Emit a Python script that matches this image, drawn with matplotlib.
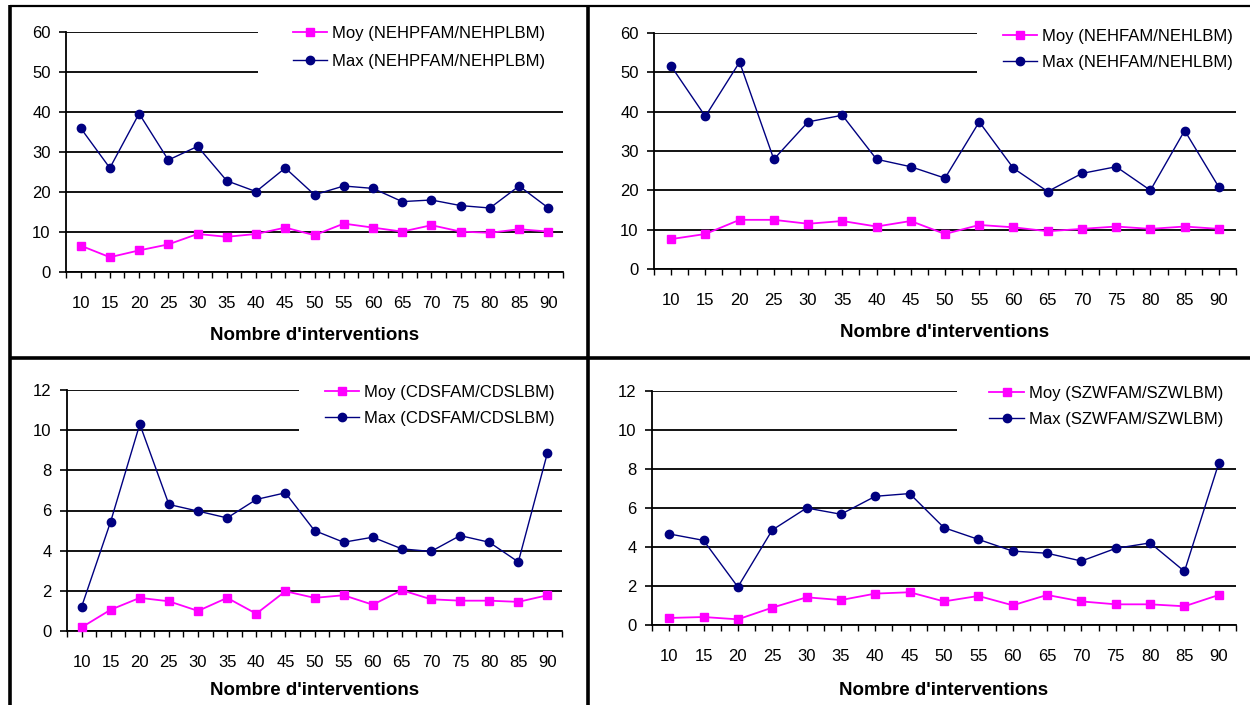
import matplotlib
matplotlib.use('Agg')
import matplotlib.pyplot as plt
from matplotlib.lines import Line2D

plt.rcParams['font.family'] = ['Liberation Sans', 'DejaVu Sans']

# Nombre d'interventions (categories)
interventions = [10, 15, 20, 25, 30, 35, 40, 45, 50, 55, 60, 65, 70, 75, 80, 85, 90]

# NEHPFAM/NEHPLBM
nehp_moy = [6.6, 3.7, 5.4, 6.9, 9.5, 8.8, 9.5, 11.1, 9.2, 12.1, 11.1, 10.1, 11.7, 10.1, 9.8, 10.7, 10.1]
nehp_max = [36.0, 26.0, 39.6, 28.0, 31.4, 22.8, 20.1, 26.0, 19.3, 21.5, 20.9, 17.6, 18.0, 16.6, 16.0, 21.5, 16.0]

# NEHFAM/NEHLBM
neh_moy = [7.6, 8.9, 12.5, 12.5, 11.5, 12.2, 10.8, 12.2, 8.9, 11.2, 10.6, 9.6, 10.2, 10.8, 10.2, 10.8, 10.2]
neh_max = [51.6, 38.8, 52.6, 27.9, 37.4, 39.1, 27.9, 26.0, 23.1, 37.4, 25.6, 19.7, 24.3, 26.0, 20.0, 35.2, 20.8]

# CDSFAM/CDSLBM
cds_moy = [0.18, 1.06, 1.65, 1.48, 1.0, 1.65, 0.86, 1.98, 1.65, 1.78, 1.31, 2.03, 1.58, 1.51, 1.51, 1.45, 1.78]
cds_max = [1.2, 5.45, 10.3, 6.3, 5.97, 5.63, 6.55, 6.88, 5.0, 4.42, 4.67, 4.09, 3.96, 4.75, 4.42, 3.44, 8.87]

# SZWFAM/SZWLBM
szw_moy = [0.36, 0.41, 0.29, 0.89, 1.42, 1.28, 1.61, 1.68, 1.21, 1.49, 1.01, 1.54, 1.21, 1.06, 1.06, 0.96, 1.54]
szw_max = [4.67, 4.34, 1.95, 4.87, 6.0, 5.68, 6.6, 6.74, 4.99, 4.39, 3.79, 3.68, 3.28, 3.93, 4.21, 2.75, 8.31]

W, H = 1250, 705
PINK = '#FF00FF'
NAVY = '#000080'

fig = plt.figure(figsize=(W / 100, H / 100), dpi=100)


def draw_panel(box, moy, mx, name, ymax, ystep, leg_left, leg_mid, bpad, lspace, label_y):
    # box in pixels: left, top, right, bottom
    x0, y0, x1, y1 = box
    ax = fig.add_axes([x0 / W, 1 - y1 / H, (x1 - x0) / W, (y1 - y0) / H])
    n = len(interventions)
    xs = [i + 0.5 for i in range(n)]

    # lines above the legend box so no marker gets hidden by it
    ax.plot(xs, moy, color=PINK, marker='s', ms=5.5, lw=1.3, clip_on=False,
            label=f'Moy ({name})', zorder=6)
    ax.plot(xs, mx, color=NAVY, marker='o', ms=6, lw=1.0, clip_on=False,
            label=f'Max ({name})', zorder=6)

    ax.set_xlim(0, n)
    ax.set_ylim(0, ymax)
    ax.set_xticks(xs)
    ax.set_xticklabels([str(v) for v in interventions])
    ax.set_xticks(range(n + 1), minor=True)
    ax.set_yticks(range(0, ymax + 1, ystep))

    ax.tick_params(axis='x', which='both', direction='out', length=4, width=1,
                   color='black', pad=13, labelsize=12)
    ax.tick_params(axis='y', direction='out', length=5, width=1.2,
                   color='black', pad=6, labelsize=12)

    ax.yaxis.grid(True, color='black', lw=1.3)
    ax.set_axisbelow(True)
    for s in ['top', 'right']:
        ax.spines[s].set_visible(False)
    for s in ['left', 'bottom']:
        ax.spines[s].set_color('black')
        ax.spines[s].set_linewidth(1.3)

    ax.set_xlabel("Nombre d'interventions", fontsize=13.5, fontweight='bold', va='center')
    ax.xaxis.set_label_coords(0.5, label_y)

    ax.legend(loc='center left', bbox_to_anchor=(leg_left / W, 1 - leg_mid / H),
              bbox_transform=fig.transFigure, borderaxespad=0, borderpad=bpad,
              frameon=True, facecolor='white', edgecolor='none', framealpha=1,
              fancybox=False, handlelength=2.05, handletextpad=0.3,
              labelspacing=lspace, fontsize=12)
    return ax


draw_panel((66, 32, 563, 272), nehp_moy, nehp_max, 'NEHPFAM/NEHPLBM', 60, 10,
           258, 47.5, 2.07, 0.8, -0.2625)
draw_panel((654, 33, 1236, 269), neh_moy, neh_max, 'NEHFAM/NEHLBM', 60, 10,
           977, 49.5, 1.53, 0.68, -0.271)
draw_panel((67, 390, 562, 631), cds_moy, cds_max, 'CDSFAM/CDSLBM', 12, 2,
           299, 405.5, 1.53, 0.68, -0.245)
draw_panel((652, 391, 1236, 625), szw_moy, szw_max, 'SZWFAM/SZWLBM', 12, 2,
           957, 406.5, 1.95, 0.68, -0.278)


# frame lines around the panels
def border(xa, ya, xb, yb, lw):
    fig.add_artist(Line2D([xa / W, xb / W], [1 - ya / H, 1 - yb / H],
                          transform=fig.transFigure, color='black', lw=lw,
                          solid_capstyle='butt'))


border(10, 6, 1250, 6, 1.6)
border(10, 5, 10, 705, 2.6)
border(588, 5, 588, 705, 2.6)
border(10, 358, 1250, 358, 2.6)

fig.savefig('out.png', dpi=100)
